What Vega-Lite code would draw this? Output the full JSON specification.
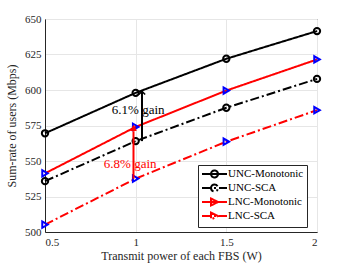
{
  "$schema": "https://vega.github.io/schema/vega-lite/v6.json",
  "width": 272,
  "height": 213,
  "autosize": "none",
  "padding": {"left": 45, "top": 19, "right": 33, "bottom": 31},
  "background": "white",
  "config": {
    "view": {"stroke": "#262626", "strokeWidth": 1},
    "font": "Liberation Serif",
    "axis": {
      "labelFont": "Liberation Serif",
      "labelFontSize": 11,
      "labelColor": "#262626",
      "titleFont": "Liberation Serif",
      "titleFontSize": 12,
      "titleFontWeight": "normal",
      "titleColor": "#262626",
      "domainColor": "#262626",
      "gridColor": "#e6e6e6",
      "gridWidth": 1,
      "ticks": false,
      "labelPadding": 4,
      "labelOverlap": false
    }
  },
  "data": {
    "values": [
      {"p": 0.5, "rate": 569.5, "series": "UNC-Monotonic"},
      {"p": 1.0, "rate": 598.0, "series": "UNC-Monotonic"},
      {"p": 1.5, "rate": 622.0, "series": "UNC-Monotonic"},
      {"p": 2.0, "rate": 641.5, "series": "UNC-Monotonic"},
      {"p": 0.5, "rate": 535.8, "series": "UNC-SCA"},
      {"p": 1.0, "rate": 564.0, "series": "UNC-SCA"},
      {"p": 1.5, "rate": 587.5, "series": "UNC-SCA"},
      {"p": 2.0, "rate": 607.8, "series": "UNC-SCA"},
      {"p": 0.5, "rate": 541.3, "series": "LNC-Monotonic"},
      {"p": 1.0, "rate": 574.0, "series": "LNC-Monotonic"},
      {"p": 1.5, "rate": 599.6, "series": "LNC-Monotonic"},
      {"p": 2.0, "rate": 621.5, "series": "LNC-Monotonic"},
      {"p": 0.5, "rate": 505.2, "series": "LNC-SCA"},
      {"p": 1.0, "rate": 537.6, "series": "LNC-SCA"},
      {"p": 1.5, "rate": 563.6, "series": "LNC-SCA"},
      {"p": 2.0, "rate": 585.8, "series": "LNC-SCA"}
    ]
  },
  "encoding": {
    "x": {
      "field": "p", "type": "quantitative",
      "scale": {"domain": [0.5, 2], "nice": false, "zero": false},
      "axis": {"title": "Transmit power of each FBS (W)", "values": [0.5, 1, 1.5, 2], "format": "~g", "titlePadding": 3}
    },
    "y": {
      "field": "rate", "type": "quantitative",
      "scale": {"domain": [500, 650], "nice": false, "zero": false},
      "axis": {"title": "Sum-rate of users (Mbps)", "values": [500, 525, 550, 575, 600, 625, 650], "titlePadding": 6}
    }
  },
  "layer": [
    {
      "mark": {"type": "line", "strokeWidth": 2},
      "encoding": {
        "color": {
          "field": "series", "type": "nominal",
          "scale": {"domain": ["UNC-Monotonic", "UNC-SCA", "LNC-Monotonic", "LNC-SCA"], "range": ["#000000", "#000000", "#ff0000", "#ff0000"]},
          "legend": {
            "orient": "none", "legendX": 153, "legendY": 146, "title": null,
            "symbolSize": 100, "symbolStrokeWidth": 2, "symbolOpacity": 1, "symbolFillColor": "transparent",
            "labelFont": "Liberation Serif", "labelFontSize": 11, "labelColor": "#000000", "labelOffset": 15, "labelLimit": 82,
            "padding": 3, "rowPadding": -3, "strokeColor": "#262626", "fillColor": "white", "cornerRadius": 0
          }
        },
        "strokeDash": {
          "field": "series", "type": "nominal",
          "scale": {"domain": ["UNC-Monotonic", "UNC-SCA", "LNC-Monotonic", "LNC-SCA"], "range": [[1, 0], [9, 3, 2, 3], [1, 0], [9, 3, 2, 3]]},
          "legend": {
            "orient": "none", "legendX": 153, "legendY": 146, "title": null,
            "symbolSize": 100, "symbolStrokeWidth": 2, "symbolOpacity": 1, "symbolFillColor": "transparent",
            "labelFont": "Liberation Serif", "labelFontSize": 11, "labelColor": "#000000", "labelOffset": 15, "labelLimit": 82,
            "padding": 3, "rowPadding": -3, "strokeColor": "#262626", "fillColor": "white", "cornerRadius": 0
          }
        }
      }
    },
    {
      "transform": [{"filter": "indexof(datum.series, 'UNC') == 0"}],
      "mark": {"type": "point", "shape": "circle", "filled": false, "stroke": "#000000", "strokeWidth": 2, "size": 40, "opacity": 1}
    },
    {
      "transform": [{"filter": "indexof(datum.series, 'LNC') == 0"}],
      "mark": {"type": "point", "shape": "triangle-right", "filled": false, "stroke": "#0000ff", "strokeWidth": 2, "size": 40, "opacity": 1}
    },
    {
      "mark": {"type": "point", "filled": false, "strokeWidth": 2, "size": 100, "opacity": 0},
      "encoding": {
        "shape": {
          "field": "series", "type": "nominal",
          "scale": {"domain": ["UNC-Monotonic", "UNC-SCA", "LNC-Monotonic", "LNC-SCA"], "range": ["M0.8,0A0.7,0.7 0 1,1 2.2,0A0.7,0.7 0 1,1 0.8,0ZM-1,0H4", "M0.8,0A0.7,0.7 0 1,1 2.2,0A0.7,0.7 0 1,1 0.8,0ZM-1,0H4", "M0.8,-0.7L2.2,0L0.8,0.7ZM-1,0H4", "M0.8,-0.7L2.2,0L0.8,0.7ZM-1,0H4"]},
          "legend": {
            "orient": "none", "legendX": 153, "legendY": 146, "title": null,
            "symbolSize": 100, "symbolStrokeWidth": 2, "symbolOpacity": 1, "symbolFillColor": "transparent",
            "labelFont": "Liberation Serif", "labelFontSize": 11, "labelColor": "#000000", "labelOffset": 15, "labelLimit": 82,
            "padding": 3, "rowPadding": -3, "strokeColor": "#262626", "fillColor": "white", "cornerRadius": 0
          }
        }
      }
    },
    {
      "data": {"values": [{"p": 1.035, "rate": 564, "rate2": 598.5}]},
      "mark": {"type": "rule", "color": "#000000", "strokeWidth": 2},
      "encoding": {"y2": {"field": "rate2"}}
    },
    {
      "data": {"values": [{"p": 1.035, "rate": 599}]},
      "mark": {"type": "point", "shape": "M-1,1L0,0L1,1", "size": 40, "filled": false, "stroke": "#000000", "strokeWidth": 1.5, "opacity": 1},
      "encoding": {}
    },
    {
      "data": {"values": [{"p": 0.988, "rate": 537.5, "rate2": 571}]},
      "mark": {"type": "rule", "color": "#ff0000", "strokeWidth": 2},
      "encoding": {"y2": {"field": "rate2"}}
    },
    {
      "data": {"values": [{"p": 0.988, "rate": 575}]},
      "mark": {"type": "point", "shape": "M-1,1.8L0,0L1,1.8Z", "size": 30, "filled": true, "fill": "#ff0000", "stroke": "#ff0000", "strokeWidth": 1, "opacity": 1},
      "encoding": {}
    },
    {
      "data": {"values": [{"p": 1.014, "rate": 585.6, "label": "6.1% gain"}]},
      "mark": {"type": "text", "font": "Liberation Serif", "fontSize": 13, "color": "#000000", "align": "center", "baseline": "middle"},
      "encoding": {"text": {"field": "label"}}
    },
    {
      "data": {"values": [{"p": 0.97, "rate": 548, "label": "6.8% gain"}]},
      "mark": {"type": "text", "font": "Liberation Serif", "fontSize": 13, "color": "#ff0000", "align": "center", "baseline": "middle"},
      "encoding": {"text": {"field": "label"}}
    }
  ]
}
